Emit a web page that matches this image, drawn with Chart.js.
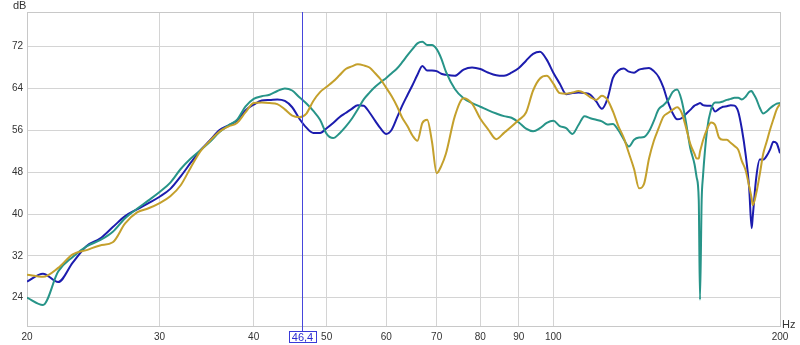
<!DOCTYPE html>
<html>
<head>
<meta charset="utf-8">
<script src="https://cdn.jsdelivr.net/npm/chart.js@4.4.1/dist/chart.umd.min.js"></script>
<style>
  html, body { margin: 0; padding: 0; background: #fff; }
  #wrap { width: 800px; height: 345px; }
</style>
</head>
<body>
<div id="wrap"><canvas id="spl"></canvas></div>
<script>
// frequencies (Hz) shared by all three measurements
const freqs = [
  20, 21, 22, 23, 24, 25, 26, 27, 28, 29,
  30, 31, 32, 33, 34, 35, 36, 37, 38, 39,
  40, 41, 42, 43, 44, 45, 46, 47, 48, 49,
  50, 51, 52, 53, 54, 55, 56, 57, 58, 59,
  60, 61, 62, 63, 64, 65, 66, 67, 68, 69,
  70, 71, 72, 74, 76, 78, 80, 82, 84, 86,
  88, 90, 92, 94, 96, 98, 100, 102, 104, 106,
  108, 110, 112, 114, 116, 118, 120, 122, 124, 126,
  128, 130, 132, 134, 136, 138, 140, 142, 144, 146,
  148, 150, 152, 154, 155, 156, 156.6, 157.4, 158, 160,
  162, 164, 166, 168, 170, 172, 174, 176, 178, 180,
  182, 183.4, 184, 186, 188, 190, 192, 194, 196, 198, 200
];

const blueDb = [
  27.1, 28.6, 27.0, 30.7, 33.9, 35.3, 37.5, 39.6, 40.9, 42.1,
  43.3, 44.8, 47.2, 49.8, 52.2, 54.1, 56.0, 56.9, 57.8, 59.8,
  60.9, 61.7, 61.8, 61.9, 61.6, 60.4, 58.2, 56.5, 55.5, 55.5,
  56.4, 57.4, 58.5, 59.3, 60.1, 60.8, 60.7, 59.4, 57.8, 56.3,
  55.3, 56.1, 58.4, 60.7, 62.7, 64.6, 66.6, 68.3, 67.4, 67.4,
  67.3, 66.8, 66.6, 66.4, 67.6, 68.0, 67.7, 67.0, 66.5, 66.4,
  67.0, 67.9, 69.3, 70.6, 71.0, 69.5, 67.0, 64.9, 62.9, 63.1,
  63.2, 63.1, 62.8, 61.5, 60.1, 62.0, 66.0, 67.4, 67.8, 67.2,
  67.0, 67.6, 67.8, 67.9, 67.3, 66.2, 64.2, 61.4, 59.3, 58.1,
  58.3, 59.1, 59.9, 60.7, 60.9, 61.1, 61.2, 61.0, 60.8, 60.7,
  60.7, 59.6, 60.1, 60.5, 60.6, 60.8, 60.7, 59.6, 56.2, 51.5,
  45.0, 37.3, 39.5, 47.0, 50.4, 50.4, 51.1, 52.3, 53.8, 53.5, 51.6
];

const tealDb = [
  24.0, 22.6, 29.0, 31.8, 33.8, 35.0, 36.6, 39.2, 41.0, 42.6,
  44.2, 46.0, 48.6, 50.6, 52.2, 53.8, 55.6, 56.9, 58.0, 60.5,
  62.0, 62.5, 62.8, 63.5, 64.0, 63.6, 62.3, 61.1, 59.7, 58.0,
  55.3, 54.5, 55.4, 56.7, 58.2, 60.0, 61.9, 63.2, 64.3, 65.2,
  66.0, 66.9, 67.8, 69.0, 70.3, 71.5, 72.6, 72.9, 72.3, 72.3,
  71.5, 69.7, 67.2, 63.9, 62.1, 61.2, 60.5, 59.8, 59.2, 58.7,
  58.4, 57.5, 56.3, 55.8, 56.4, 57.4, 57.8, 56.8, 56.4, 55.3,
  57.0, 58.7, 58.3, 58.0, 57.7, 57.1, 57.2, 56.0, 54.3, 52.9,
  54.2, 54.6, 54.7, 55.8, 57.8, 60.0, 60.8, 61.7, 63.3, 63.8,
  61.8, 57.6, 52.6, 49.5, 47.0, 42.7, 23.6, 42.7, 47.0, 56.0,
  60.0, 61.3, 61.3, 61.5, 61.8, 62.0, 62.2, 62.2, 61.9, 62.4,
  63.3, 63.5, 63.2, 62.0, 60.3, 59.2, 59.6, 60.2, 60.7, 61.1, 61.2
];

const goldDb = [
  28.4, 28.0, 29.7, 32.3, 33.1, 34.0, 34.6, 38.2, 40.3, 41.1,
  42.1, 43.4, 45.5, 48.9, 52.0, 54.0, 55.7, 56.7, 57.4, 59.4,
  61.2, 61.3, 61.2, 61.0, 60.0, 58.8, 58.5, 59.2, 61.6, 63.3,
  64.3, 65.3, 66.5, 67.7, 68.2, 68.6, 68.4, 68.0, 66.9, 65.7,
  64.1, 62.5, 60.6, 58.4, 56.8, 55.0, 54.0, 57.4, 58.0, 53.8,
  47.8, 49.2, 51.5, 58.7, 62.1, 61.1, 58.2, 56.1, 54.3, 55.5,
  56.7, 58.0, 59.4, 63.6, 65.9, 66.4, 64.9, 63.1, 63.0, 63.2,
  63.5, 63.1, 62.3, 61.8, 62.6, 61.8, 59.6, 56.8, 54.6, 51.6,
  48.6, 44.9, 45.8, 50.6, 54.0, 56.4, 58.6, 59.3, 59.9, 60.4,
  59.4, 56.6, 53.4, 51.5, 50.6, 50.6, 51.9, 53.1, 54.0, 56.2,
  57.5, 57.0, 54.6, 54.2, 54.2, 53.6, 53.0, 52.3, 50.1, 48.4,
  45.3, 43.0, 41.7, 44.0, 47.6, 51.5, 53.8, 56.1, 58.1, 60.0, 61.0
];

const xTicks = [20, 30, 40, 50, 60, 70, 80, 90, 100, 200];
const yTicks = [24, 32, 40, 48, 56, 64, 72];
const cursorHz = 46.4;

function pts(ys) {
  return freqs.map((f, i) => ({ x: f, y: ys[i] }));
}

// dB / Hz captions and the cursor with its readout box
const extras = {
  id: 'extras',
  afterDatasetsDraw(chart) {
    const { ctx, chartArea, scales } = chart;
    const cx = Math.round(scales.x.getPixelForValue(cursorHz)) + 0.5;
    ctx.save();
    ctx.strokeStyle = '#4646dc';
    ctx.lineWidth = 1;
    ctx.beginPath();
    ctx.moveTo(cx, chartArea.top);
    ctx.lineTo(cx, chartArea.bottom + 5);
    ctx.stroke();

    ctx.font = '11px "Liberation Sans", Arial, sans-serif';
    const label = cursorHz.toFixed(1).replace('.', ',');
    const w = ctx.measureText(label).width + 6;
    ctx.fillStyle = '#fff';
    ctx.fillRect(cx - w / 2, 331, w, 11);
    ctx.strokeStyle = '#3a3ad8';
    ctx.strokeRect(Math.round(cx - w / 2) + 0.5, 331.5, Math.round(w), 11);
    ctx.fillStyle = '#2a2ad0';
    ctx.textAlign = 'center';
    ctx.textBaseline = 'middle';
    ctx.fillText(label, cx, 337.5);

    ctx.fillStyle = '#333';
    ctx.textAlign = 'left';
    ctx.fillText('dB', 13, 6);
    ctx.fillText('Hz', 782, 325);
    ctx.restore();
  }
};

new Chart(document.getElementById('spl'), {
  type: 'line',
  data: {
    datasets: [{
      data: pts(goldDb),
      borderColor: '#c4a02c',
    }, {
      data: pts(tealDb),
      borderColor: '#279488',
    }, {
      data: pts(blueDb),
      borderColor: '#1c1cae',
    }]
  },
  options: {
    responsive: true,
    maintainAspectRatio: false,
    animation: false,
    layout: { padding: { top: 12, right: 20, left: 0, bottom: 0 } },
    elements: {
      point: { radius: 0 },
      line: { borderWidth: 2, cubicInterpolationMode: 'monotone' }
    },
    plugins: {
      legend: { display: false },
      tooltip: { enabled: false }
    },
    scales: {
      x: {
        type: 'logarithmic',
        min: 20,
        max: 200,
        afterBuildTicks: axis => { axis.ticks = xTicks.map(v => ({ value: v })); },
        afterFit: axis => { axis.height = 19; },
        grid: { color: '#d4d4d4', drawTicks: false },
        border: { color: '#c8c8c8' },
        ticks: {
          padding: 5,
          maxRotation: 0,
          autoSkip: false,
          color: '#333',
          font: { size: 10, family: '"Liberation Sans", Arial, sans-serif' },
          callback: v => String(v)
        }
      },
      y: {
        min: 18.6,
        max: 78.6,
        afterBuildTicks: axis => { axis.ticks = yTicks.map(v => ({ value: v })); },
        afterFit: axis => { axis.width = 27; },
        grid: { color: '#d4d4d4', drawTicks: false },
        border: { color: '#c8c8c8' },
        ticks: {
          padding: 4,
          color: '#333',
          font: { size: 10, family: '"Liberation Sans", Arial, sans-serif' },
          callback: v => String(v)
        }
      }
    }
  },
  plugins: [extras, {
    id: 'frame',
    beforeDatasetsDraw(chart) {
      const { ctx, chartArea: a } = chart;
      ctx.save();
      ctx.strokeStyle = '#c8c8c8';
      ctx.lineWidth = 1;
      ctx.strokeRect(a.left + 0.5, a.top + 0.5, a.right - a.left, a.bottom - a.top);
      ctx.restore();
    }
  }]
});
</script>
</body>
</html>
